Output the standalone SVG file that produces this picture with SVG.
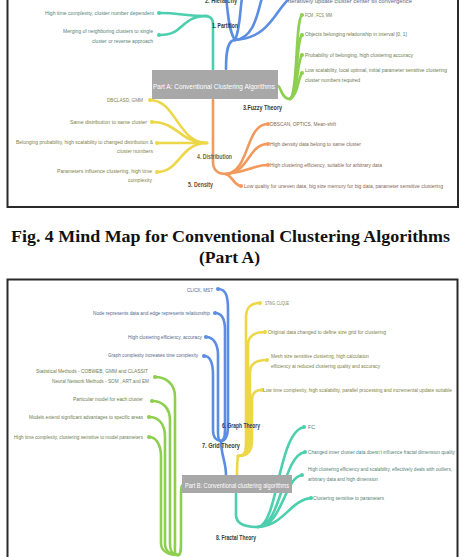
<svg xmlns="http://www.w3.org/2000/svg" width="463" height="557" viewBox="0 0 463 557">
<style>
.frame{fill:#fff;stroke:#2a2a2a;stroke-width:2}
.l{font-family:"Liberation Sans",Arial,sans-serif;font-size:6.2px}
.h{font-family:"Liberation Sans",Arial,sans-serif;font-size:6.8px;font-weight:bold}
.c{font-family:"Liberation Sans",Arial,sans-serif;font-size:8px;fill:#fff}
.cap{font-family:"Liberation Serif","Times New Roman",serif;font-size:16px;font-weight:bold;fill:#111}
.lb{fill:#55668c}.lt{fill:#557f77}.lg{fill:#6d7d50}.ly{fill:#817f45}.lo{fill:#846654}
.e{fill:none;stroke-linecap:round;stroke-linejoin:round;stroke-width:2.6}
.B{stroke:#5b8de3}.T{stroke:#4ccfae}.G{stroke:#8dcf4f}.Y{stroke:#ecd748}.O{stroke:#f2995c}
.db{fill:#5b8de3}.dt{fill:#4ccfae}.dg{fill:#8dcf4f}.dy{fill:#ecd748}.do{fill:#f2995c}
.node{fill:#a8a8a8}
</style>
<rect width="463" height="557" fill="#fff"/>
<rect class="frame" x="7.5" y="-5" width="450.5" height="212"/>
<rect class="frame" x="7.5" y="279.5" width="450" height="290"/>

<g id="connectors">
  <path class="e T" d="M213,69 L213,24 Q213,16 205,16"/>
  <path class="e T" d="M207,16 C185,16 180,13 160,13"/>
  <path class="e T" d="M207,16 C180,16 185,35 160,35"/>
  <path class="e B" d="M226,69 C226,50 228,40 235,40"/>
  <path class="e B" d="M235,40 C228,30 228,10 226,-2"/>
  <path class="e B" d="M235,40 C240,30 240,10 242,-2"/>
  <path class="e B" d="M235,40 C255,38 258,10 262,-2"/>
  <path class="e B" d="M235,40 C270,38 275,10 290,-2"/>
  <path class="e G" d="M278,86 C281,86 281,99 290,99"/>
  <path class="e G" d="M290,99 C298,95 295,20 302,15"/>
  <path class="e G" d="M290,99 C298,95 296,40 302,35"/>
  <path class="e G" d="M290,99 C298,95 297,60 302,55"/>
  <path class="e G" d="M290,99 C298,95 298,78 302,73"/>
  <path class="e Y" d="M207,143 C178,143 176,100 150,100"/>
  <path class="e Y" d="M207,143 C180,143 178,122 152,122"/>
  <path class="e Y" d="M207,143 C185,143 175,143 157,143"/>
  <path class="e Y" d="M207,143 C180,143 180,172 157,172"/>
  <path class="e O" d="M213,100 L213,162 C213,170 218,174 226,174"/>
  <path class="e O" d="M226,174 C250,172 245,124 268,124"/>
  <path class="e O" d="M226,174 C250,172 248,144 268,144"/>
  <path class="e O" d="M226,174 C250,172 252,165 268,165"/>
  <path class="e O" d="M226,174 C232,176 235,186 241,186"/>
  <path class="e B" d="M221,441 C221,455 226,462 226,475"/>
  <path class="e B" d="M218,289 C226,289 228,296 228,310 L228,425 C228,436 225,441 221,441"/>
  <path class="e B" d="M215,313 C222,313 225,320 225,330 L225,430 C225,438 223,441 221,441"/>
  <path class="e B" d="M206,337 C214,337 218,345 218,355 L218,432 C218,438 219,441 221,441"/>
  <path class="e B" d="M204,356 C211,356 213,365 213,375 L213,430 C213,438 217,441 221,441"/>
  <path class="e Y" d="M238,456 C237,462 237,468 237,475"/>
  <path class="e Y" d="M238,456 C246,456 246,450 246,440 L246,318 C246,308 250,303 260,303"/>
  <path class="e Y" d="M238,456 C247,456 248,450 248,440 L248,345 C248,336 255,332 265,332"/>
  <path class="e Y" d="M238,456 C248,456 250,450 250,440 L250,372 C250,363 258,360 267,360"/>
  <path class="e Y" d="M238,456 C249,456 252,450 252,440 L252,400 C252,393 256,390 262,390"/>
  <path class="e T" d="M236,493 L236,515 C236,524 244,527 258,527"/>
  <path class="e T" d="M258,527 C278,525 278,432 304,427"/>
  <path class="e T" d="M258,527 C282,525 282,456 305,452"/>
  <path class="e T" d="M258,527 C283,525 284,478 302,475"/>
  <path class="e T" d="M258,527 C285,525 290,500 311,498"/>
  <path class="e G" d="M178,555 C181,555 181,550 181,540 L181,492 C181,487 182,485 183,485"/>
  <path class="e G" d="M155,377 C165,377 175,383 175,397 L175,543 C175,551 174,555 178,555"/>
  <path class="e G" d="M152,401 C162,401 170,407 170,421 L170,543 C170,551 172,555 178,555"/>
  <path class="e G" d="M149,417 C158,417 165,423 165,437 L165,543 C165,551 170,555 178,555"/>
  <path class="e G" d="M149,437 C155,437 161,443 161,457 L161,543 C161,551 168,555 178,555"/>
</g>

<g id="dots">
  <circle class="dt" cx="159" cy="13" r="2"/><circle class="dt" cx="159" cy="35" r="2"/>
  <circle class="dg" cx="302" cy="15" r="2"/><circle class="dg" cx="302" cy="35" r="2"/><circle class="dg" cx="302" cy="55" r="2"/><circle class="dg" cx="302" cy="73" r="2"/>
  <circle class="dy" cx="150" cy="100" r="2"/><circle class="dy" cx="152" cy="122" r="2"/><circle class="dy" cx="157" cy="143" r="2"/><circle class="dy" cx="157" cy="172" r="2"/>
  <circle class="do" cx="268" cy="124" r="2"/><circle class="do" cx="268" cy="144" r="2"/><circle class="do" cx="268" cy="165" r="2"/><circle class="do" cx="241" cy="186" r="2"/>
  <circle class="db" cx="218" cy="289" r="2"/><circle class="db" cx="215" cy="313" r="2"/><circle class="db" cx="206" cy="337" r="2"/><circle class="db" cx="204" cy="356" r="2"/>
  <circle class="dy" cx="260" cy="303" r="2"/><circle class="dy" cx="265" cy="332" r="2"/><circle class="dy" cx="267" cy="360" r="2"/><circle class="dy" cx="262" cy="390" r="2"/>
  <circle class="dt" cx="304" cy="427" r="2"/><circle class="dt" cx="305" cy="452" r="2"/><circle class="dt" cx="302" cy="475" r="2"/><circle class="dt" cx="311" cy="498" r="2"/>
  <circle class="dg" cx="155" cy="377" r="2"/><circle class="dg" cx="152" cy="401" r="2"/><circle class="dg" cx="149" cy="417" r="2"/><circle class="dg" cx="149" cy="437" r="2"/>
</g>

<g id="nodeA">
  <rect class="node" x="152" y="70" width="126" height="29"/>
  <text class="c" x="153" y="89" textLength="122" lengthAdjust="spacingAndGlyphs">Part A: Conventional Clustering Algorithms</text>
</g>
<g id="branch-partition">
  <text class="h" x="212" y="28" fill="#2b3550" textLength="26" lengthAdjust="spacingAndGlyphs">1. Partition</text>
  <text class="l lb" x="288" y="2.5" textLength="124" lengthAdjust="spacingAndGlyphs">Iteratively update cluster center till convergence</text>
</g>
<g id="branch-hierarchy">
  <text class="h" x="205" y="2.5" fill="#2e4a44" textLength="32" lengthAdjust="spacingAndGlyphs">2. Hierarchy</text>
  <text class="l lt" x="45" y="15" textLength="109" lengthAdjust="spacingAndGlyphs">High time complexity, cluster number dependent</text>
  <text class="l lt" x="63" y="33" textLength="90" lengthAdjust="spacingAndGlyphs">Merging of neighboring clusters to single</text>
  <text class="l lt" x="92" y="43" textLength="61" lengthAdjust="spacingAndGlyphs">cluster or reverse approach</text>
</g>
<g id="branch-fuzzy">
  <text class="h" x="243" y="110" fill="#3c3a20" textLength="39" lengthAdjust="spacingAndGlyphs">3.Fuzzy Theory</text>
  <text class="l lg" x="305" y="17" textLength="27" lengthAdjust="spacingAndGlyphs">FCM , FCS, MM</text>
  <text class="l lg" x="305" y="36" textLength="102" lengthAdjust="spacingAndGlyphs">Objects belonging relationship in interval [0, 1]</text>
  <text class="l lg" x="305" y="57" textLength="108" lengthAdjust="spacingAndGlyphs">Probability of belonging, high clustering accuracy</text>
  <text class="l lg" x="305" y="72" textLength="142" lengthAdjust="spacingAndGlyphs">Low scalability, local optimal, initial parameter sensitive clustering</text>
  <text class="l lg" x="305" y="82" textLength="55" lengthAdjust="spacingAndGlyphs">cluster numbers required</text>
</g>
<g id="branch-distribution">
  <text class="h" x="197" y="159" fill="#6b6a3a" textLength="35" lengthAdjust="spacingAndGlyphs">4. Distribution</text>
  <text class="l ly" x="107" y="102" textLength="36" lengthAdjust="spacingAndGlyphs">DBCLASD, GMM</text>
  <text class="l ly" x="70" y="124" textLength="77" lengthAdjust="spacingAndGlyphs">Same distribution to same cluster</text>
  <text class="l ly" x="16" y="144" textLength="137" lengthAdjust="spacingAndGlyphs">Belonging probability, high scalability to changed distribution &amp;</text>
  <text class="l ly" x="117" y="153" textLength="36" lengthAdjust="spacingAndGlyphs">cluster numbers</text>
  <text class="l ly" x="57" y="173" textLength="95" lengthAdjust="spacingAndGlyphs">Parameters influence clustering, high time</text>
  <text class="l ly" x="128" y="182" textLength="24" lengthAdjust="spacingAndGlyphs">complexity</text>
</g>
<g id="branch-density">
  <text class="h" x="188" y="187" fill="#6b4a30" textLength="25" lengthAdjust="spacingAndGlyphs">5. Density</text>
  <text class="l lo" x="270" y="126" textLength="66" lengthAdjust="spacingAndGlyphs">DBSCAN, OPTICS, Mean-shift</text>
  <text class="l lo" x="270" y="146" textLength="91" lengthAdjust="spacingAndGlyphs">High density data belong to same cluster</text>
  <text class="l lo" x="270" y="167" textLength="112" lengthAdjust="spacingAndGlyphs">High clustering efficiency, suitable for arbitrary data</text>
  <text class="l lo" x="244" y="188" textLength="199" lengthAdjust="spacingAndGlyphs">Low quality for uneven data, big size memory for big data, parameter sensitive clustering</text>
</g>

<g id="caption">
  <text class="cap" x="11" y="242" textLength="439" lengthAdjust="spacingAndGlyphs">Fig. 4 Mind Map for Conventional Clustering Algorithms</text>
  <text class="cap" x="199" y="263" textLength="61" lengthAdjust="spacingAndGlyphs">(Part A)</text>
</g>

<g id="nodeB">
  <rect class="node" x="182" y="475" width="110" height="18"/>
  <text class="c" x="185" y="487.5" style="font-size:7.5px" textLength="104" lengthAdjust="spacingAndGlyphs">Part B: Conventional clustering algorithms</text>
</g>
<g id="branch-graph">
  <text class="h" x="222" y="428" fill="#2a3a60" textLength="38" lengthAdjust="spacingAndGlyphs">6. Graph Theory</text>
  <text class="l lb" x="187" y="292" textLength="26" lengthAdjust="spacingAndGlyphs">CLICK, MST</text>
  <text class="l lb" x="93" y="315" textLength="117" lengthAdjust="spacingAndGlyphs">Node represents data and edge represents relationship</text>
  <text class="l lb" x="128" y="339" textLength="74" lengthAdjust="spacingAndGlyphs">High clustering efficiency, accuracy</text>
  <text class="l lb" x="108" y="357" textLength="90" lengthAdjust="spacingAndGlyphs">Graph complexity increases time complexity</text>
</g>
<g id="branch-grid">
  <text class="h" x="202" y="448" fill="#3a3a30" textLength="38" lengthAdjust="spacingAndGlyphs">7. Grid Theory</text>
  <text class="l ly" x="265" y="305" textLength="24" lengthAdjust="spacingAndGlyphs">STING, CLIQUE</text>
  <text class="l ly" x="268" y="334" textLength="118" lengthAdjust="spacingAndGlyphs">Original data changed to define size grid for clustering</text>
  <text class="l ly" x="271" y="358" textLength="98" lengthAdjust="spacingAndGlyphs">Mesh size sensitive clustering, high calculation</text>
  <text class="l ly" x="271" y="368" textLength="109" lengthAdjust="spacingAndGlyphs">efficiency at reduced clustering quality and accuracy</text>
  <text class="l ly" x="263" y="392" textLength="189" lengthAdjust="spacingAndGlyphs">Low time complexity, high scalability, parallel processing and incremental update suitable</text>
</g>
<g id="branch-fractal">
  <text class="h" x="216" y="540" fill="#2a4040" textLength="40" lengthAdjust="spacingAndGlyphs">8. Fractal Theory</text>
  <text class="l lt" x="308" y="429" textLength="7" lengthAdjust="spacingAndGlyphs">FC</text>
  <text class="l lt" x="308" y="454" textLength="147" lengthAdjust="spacingAndGlyphs">Changed inner cluster data doesn't influence fractal dimension quality</text>
  <text class="l lt" x="308" y="471" textLength="144" lengthAdjust="spacingAndGlyphs">High clustering efficiency and scalability, effectively deals with outliers,</text>
  <text class="l lt" x="308" y="481" textLength="70" lengthAdjust="spacingAndGlyphs">arbitrary data and high dimension</text>
  <text class="l lt" x="313" y="500" textLength="71" lengthAdjust="spacingAndGlyphs">Clustering sensitive to parameters</text>
</g>
<g id="branch-model">
  <text class="l lg" x="36" y="373" textLength="112" lengthAdjust="spacingAndGlyphs">Statistical Methods - COBWEB, GMM and CLASSIT</text>
  <text class="l lg" x="52" y="383" textLength="97" lengthAdjust="spacingAndGlyphs">Neural Network Methods - SOM , ART and EM</text>
  <text class="l lg" x="73" y="401" textLength="70" lengthAdjust="spacingAndGlyphs">Particular model for each cluster</text>
  <text class="l lg" x="29" y="419" textLength="114" lengthAdjust="spacingAndGlyphs">Models extend significant advantages to specific areas</text>
  <text class="l lg" x="14" y="439" textLength="129" lengthAdjust="spacingAndGlyphs">High time complexity, clustering sensitive to model parameters</text>
</g>
</svg>
